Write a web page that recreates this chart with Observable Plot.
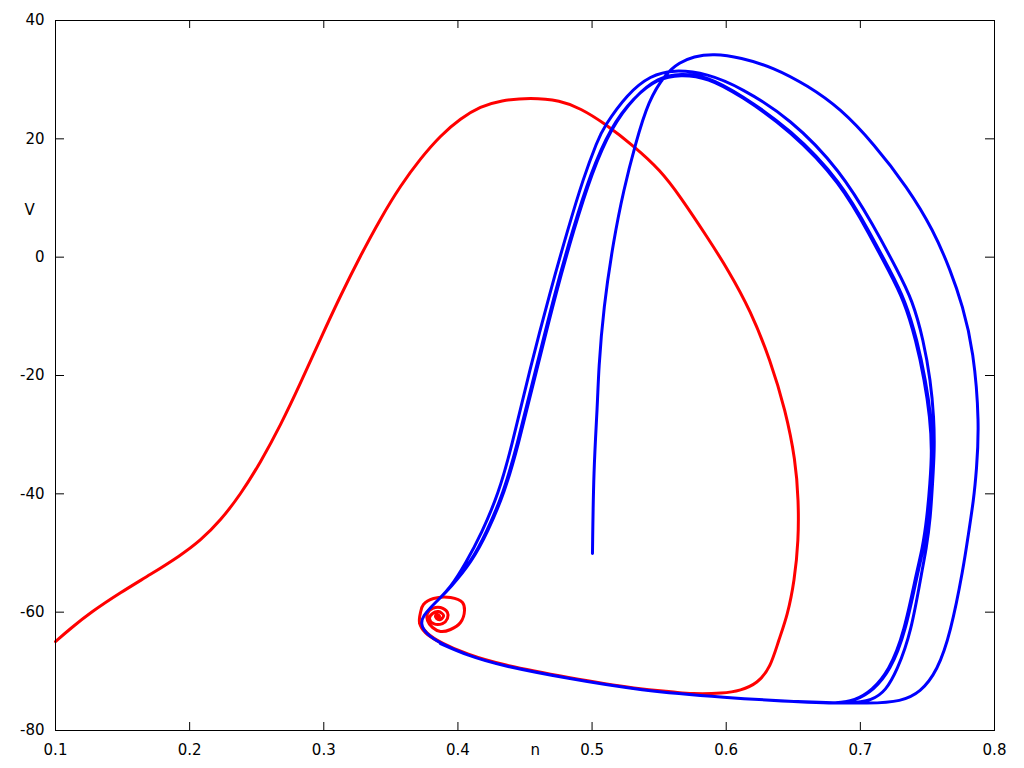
<!DOCTYPE html>
<html><head><meta charset="utf-8">
<script src="https://cdn.jsdelivr.net/npm/d3@7"></script>
<script src="https://cdn.jsdelivr.net/npm/@observablehq/plot@0.6"></script>
<style>body{margin:0;background:#fff}#chart{width:1024px;height:768px}</style>
</head><body><div id="chart"></div>
<script>
const xTicks = [0.1, 0.2, 0.3, 0.4, 0.5, 0.6, 0.7, 0.8];
const xTickLabels = ["0.1", "0.2", "0.3", "0.4", "0.5", "0.6", "0.7", "0.8"];
const yTicks = [-80, -60, -40, -20, 0, 20, 40];
const yTickLabels = ["-80", "-60", "-40", "-20", "0", "20", "40"];
const xLabel = "n";
const yLabel = "V";

// red trajectory [n, V]: main sweep, then the spiral into the fixed point
const redMain = [
  [0.1000,-64.96],[0.1112,-62.76],[0.1261,-60.06],[0.1485,-56.67],[0.1708,-53.63],[0.1932,-50.42],
  [0.2081,-47.89],[0.2230,-44.51],[0.2379,-40.11],[0.2528,-34.70],[0.2677,-28.45],[0.2826,-21.35],
  [0.2976,-13.74],[0.3125,-6.48],[0.3274,0.28],[0.3423,6.54],[0.3572,12.11],[0.3721,16.68],
  [0.3870,20.56],[0.4019,23.44],[0.4168,25.47],[0.4317,26.48],[0.4541,26.99],[0.4765,26.48],
  [0.4914,25.13],[0.5085,22.76],[0.5324,18.54],[0.5510,14.65],[0.5652,10.42],[0.5861,3.33],
  [0.6017,-2.25],[0.6181,-9.01],[0.6330,-17.46],[0.6442,-25.91],[0.6517,-34.36],[0.6539,-41.12],
  [0.6539,-47.89],[0.6509,-54.65],[0.6457,-60.56],[0.6390,-64.79],[0.6330,-69.35],[0.6233,-72.06],
  [0.6107,-73.24],[0.5980,-73.75],[0.5734,-73.85],[0.5607,-73.45],[0.5361,-73.08],[0.4817,-71.05],
  [0.4317,-68.86],[0.4071,-67.17],[0.3870,-65.16],[0.3758,-63.48],[0.3714,-61.80]
];
const redSpiral = [
  [0.3870,-65.16],[0.3758,-63.48],[0.3714,-61.80],[0.3721,-60.06],
  [0.3743,-58.70],[0.3818,-57.69],[0.3945,-57.52],[0.4034,-58.37],[0.4049,-59.72],[0.4019,-61.75],
  [0.3945,-62.93],[0.3870,-63.27],[0.3811,-62.59],[0.3773,-61.41],[0.3773,-60.23],[0.3811,-59.38],
  [0.3870,-59.21],[0.3922,-60.06],[0.3922,-61.07],[0.3885,-61.92],[0.3818,-61.92],[0.3788,-61.07],
  [0.3811,-60.23],[0.3855,-59.89],[0.3893,-60.56],[0.3870,-61.24],[0.3840,-61.07],[0.3833,-60.56],
  [0.3848,-60.40],[0.3863,-60.73],[0.3848,-60.90]
];

// blue trajectory pieces [n, V]
const blueStart = [
  [0.5003,-50.08],[0.5011,-36.05],[0.5041,-24.73],[0.5048,-19.15],[0.5085,-8.51],[0.5160,2.82],
  [0.5234,11.27],[0.5324,19.21],[0.5420,26.48],[0.5548,31.04],[0.5652,32.90],[0.5756,33.92],
  [0.5905,34.42],[0.6107,33.75],[0.6353,32.06],[0.6606,29.01],[0.6852,25.13],[0.7098,19.21],
  [0.7352,11.78],[0.7546,4.51],[0.7672,-2.25],[0.7762,-8.17],[0.7844,-15.77],[0.7888,-28.11],
  [0.7866,-36.05],[0.7844,-41.12],[0.7806,-46.70],[0.7769,-52.45],[0.7672,-63.61],[0.7575,-69.86],
  [0.7449,-73.58],[0.7299,-75.10],[0.7098,-75.44]
];
const blueBottom = [
  [0.6606,-75.27],[0.5980,-74.42],[0.5361,-73.24],[0.4817,-71.21],[0.4317,-69.01],[0.4071,-67.32],
  [0.3870,-65.30],[0.3758,-63.61],[0.3721,-61.92],[0.3743,-60.56],[0.3796,-59.21],[0.3848,-58.03],
  [0.3945,-55.83]
];
const blueLoop1 = [
  [0.4057,-51.77],[0.4176,-46.70],[0.4303,-39.94],[0.4399,-32.17],[0.4534,-19.15],[0.4690,-5.63],
  [0.4817,4.51],[0.4936,13.47],[0.5041,19.72],[0.5085,21.92],[0.5264,27.66],[0.5435,30.70],
  [0.5607,31.72],[0.5861,31.04],[0.6107,28.68],[0.6479,23.44],[0.6852,14.65],[0.7098,5.35],
  [0.7277,-2.25],[0.7389,-7.32],[0.7471,-14.08],[0.7523,-20.84],[0.7549,-27.10],[0.7553,-32.67],
  [0.7538,-38.25],[0.7523,-44.00],[0.7490,-49.58],[0.7463,-52.45],[0.7378,-63.61],[0.7273,-69.86],
  [0.7191,-73.24],[0.7087,-74.93],[0.6927,-75.44]
];
const blueLoop2 = [
  [0.4094,-51.60],[0.4213,-46.53],[0.4340,-39.77],[0.4437,-32.17],[0.4578,-19.15],[0.4727,-5.63],
  [0.4854,4.51],[0.4988,14.14],[0.5137,21.92],[0.5309,26.99],[0.5488,30.20],[0.5659,30.87],
  [0.5861,30.37],[0.6107,27.32],[0.6479,21.41],[0.6852,12.62],[0.7076,3.49],[0.7210,-2.25],
  [0.7326,-7.32],[0.7415,-14.08],[0.7478,-20.84],[0.7519,-27.10],[0.7534,-32.67],[0.7519,-38.25],
  [0.7497,-44.00],[0.7460,-49.58],[0.7426,-52.45],[0.7326,-63.61],[0.7214,-69.86],[0.7087,-73.24],
  [0.6960,-74.93],[0.6815,-75.44]
];
const blueLoop3 = [
  [0.4103,-51.50],[0.4222,-46.45],[0.4349,-39.70],[0.4446,-32.10],[0.4587,-19.10],[0.4736,-5.58],
  [0.4863,4.56],[0.4997,14.20],[0.5146,22.00],[0.5316,27.15],[0.5493,30.40],[0.5660,31.07],
  [0.5861,30.57],[0.6105,27.52],[0.6482,21.60],[0.6857,12.78],[0.7083,3.62],[0.7219,-2.15],
  [0.7335,-7.30],[0.7424,-14.08],[0.7487,-20.84],[0.7528,-27.10],[0.7543,-32.67],[0.7528,-38.25],
  [0.7506,-44.00],[0.7469,-49.58],[0.7435,-52.45],[0.7335,-63.61],[0.7223,-69.86],[0.7098,-73.20],
  [0.6970,-74.90],[0.6825,-75.42],[0.6606,-75.27],[0.5980,-74.42],[0.5361,-73.24],[0.4817,-71.21],
  [0.4317,-69.01],[0.4071,-67.32],[0.3870,-65.30]
];
const blueTrajectory = [...blueStart, ...blueBottom, ...blueLoop1, ...blueBottom, ...blueLoop2, ...blueBottom, ...blueLoop3];

const plotW = 1024 - 55 - 30, plotH = 768 - 20 - 38;
const lineOpts = {x: d => d[0], y: d => d[1], strokeWidth: 3};
const chart = Plot.plot({
  width: 1024, height: 768,
  marginLeft: 55, marginRight: 30, marginTop: 20, marginBottom: 38,
  style: {fontFamily: "DejaVu Sans", fontSize: "15px", background: "white", color: "black"},
  x: {domain: [0.1, 0.8], label: null},
  y: {domain: [-80, 40], label: null},
  marks: [
    Plot.line(redMain, {...lineOpts, stroke: "#ff0000", curve: "basis"}),
    Plot.line(redSpiral, {...lineOpts, stroke: "#ff0000", curve: "catmull-rom"}),
    Plot.line(blueTrajectory, {...lineOpts, stroke: "#0000ff", curve: "basis"}),
    Plot.ruleY(yTicks, {stroke: "black", insetRight: plotW - 9}),
    Plot.ruleY(yTicks, {stroke: "black", insetLeft: plotW - 9}),
    Plot.ruleX(xTicks, {stroke: "black", insetTop: plotH - 8}),
    Plot.ruleX(xTicks, {stroke: "black", insetBottom: plotH - 8}),
    Plot.frame({stroke: "black"}),
    Plot.axisX({ticks: xTicks, tickSize: 0, tickPadding: 14, tickFormat: d => xTickLabels[xTicks.indexOf(d)], label: null}),
    Plot.axisY({ticks: yTicks, tickSize: 0, tickPadding: 11, tickFormat: d => yTickLabels[yTicks.indexOf(d)], label: null}),
    Plot.text([yLabel], {text: d => d, frameAnchor: "top-left", dx: -31, dy: 184, fill: "black"}),
    Plot.text([xLabel], {text: d => d, frameAnchor: "bottom-left", dx: 475, dy: 14, lineAnchor: "top", fill: "black"})
  ]
});
document.getElementById("chart").appendChild(chart);
</script>
</body></html>
